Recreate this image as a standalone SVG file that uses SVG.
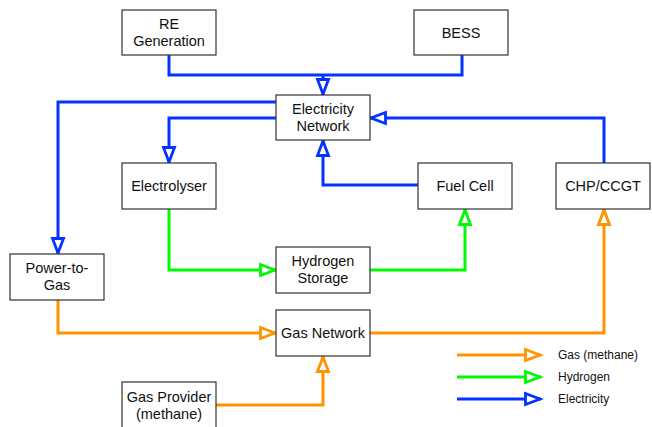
<svg xmlns="http://www.w3.org/2000/svg" width="652" height="427" viewBox="0 0 652 427">
<style>
.box{fill:#fff;stroke:#333;stroke-width:1.2}
.t{font-family:"Liberation Sans",Arial,sans-serif;font-size:14.5px;fill:#111;text-anchor:middle}
.lg{font-family:"Liberation Sans",Arial,sans-serif;font-size:12px;fill:#111}
.c{fill:none;stroke-width:3;stroke-linejoin:miter;stroke-linecap:butt}
.b{stroke:#0433FF}
.g{stroke:#00F900}
.o{stroke:#FF9300}
</style>
<defs>
<marker id="ab" markerUnits="userSpaceOnUse" markerWidth="22" markerHeight="18" viewBox="-3 -9 22 18" refX="15.5" refY="0" orient="auto"><polygon points="0,-5.5 14.5,0 0,5.5" fill="#fff" stroke="#0433FF" stroke-width="2.8"/></marker>
<marker id="ag" markerUnits="userSpaceOnUse" markerWidth="22" markerHeight="18" viewBox="-3 -9 22 18" refX="15.5" refY="0" orient="auto"><polygon points="0,-5.5 14.5,0 0,5.5" fill="#fff" stroke="#00F900" stroke-width="2.8"/></marker>
<marker id="ao" markerUnits="userSpaceOnUse" markerWidth="22" markerHeight="18" viewBox="-3 -9 22 18" refX="15.5" refY="0" orient="auto"><polygon points="0,-5.5 14.5,0 0,5.5" fill="#fff" stroke="#FF9300" stroke-width="2.8"/></marker>
</defs>
<rect width="652" height="427" fill="#fff"/>
<g id="connectors">
<path class="c b" d="M169,55 V75 H462 V55"/>
<path class="c b" d="M323,75 V95" marker-end="url(#ab)"/>
<path class="c b" d="M276,102 H58 V254" marker-end="url(#ab)"/>
<path class="c b" d="M276,118 H169 V163" marker-end="url(#ab)"/>
<path class="c b" d="M418,185 H323 V140" marker-end="url(#ab)"/>
<path class="c b" d="M604,163 V118 H370" marker-end="url(#ab)"/>
<path class="c g" d="M169,209 V270 H276" marker-end="url(#ag)"/>
<path class="c g" d="M370,270 H465 V209" marker-end="url(#ag)"/>
<path class="c o" d="M58,300 V333 H276" marker-end="url(#ao)"/>
<path class="c o" d="M370,333 H604 V209" marker-end="url(#ao)"/>
<path class="c o" d="M216,405 H323 V356" marker-end="url(#ao)"/>
</g>
<g id="re-generation"><rect class="box" x="122" y="10" width="94" height="45"/><text class="t" x="169" y="29">RE</text><text class="t" x="169" y="46">Generation</text></g>
<g id="bess"><rect class="box" x="414" y="10" width="94" height="45"/><text class="t" x="461" y="38">BESS</text></g>
<g id="electricity-network"><rect class="box" x="276" y="95" width="94" height="45"/><text class="t" x="323" y="114">Electricity</text><text class="t" x="323" y="131">Network</text></g>
<g id="electrolyser"><rect class="box" x="122" y="163" width="94" height="46"/><text class="t" x="169" y="191">Electrolyser</text></g>
<g id="fuel-cell"><rect class="box" x="418" y="163" width="94" height="46"/><text class="t" x="465" y="191">Fuel Cell</text></g>
<g id="chp-ccgt"><rect class="box" x="556" y="163" width="94" height="46"/><text class="t" x="603" y="191">CHP/CCGT</text></g>
<g id="power-to-gas"><rect class="box" x="10" y="254" width="94" height="46"/><text class="t" x="57" y="273">Power-to-</text><text class="t" x="57" y="290">Gas</text></g>
<g id="hydrogen-storage"><rect class="box" x="276" y="247" width="94" height="46"/><text class="t" x="323" y="266">Hydrogen</text><text class="t" x="323" y="283">Storage</text></g>
<g id="gas-network"><rect class="box" x="276" y="310" width="94" height="46"/><text class="t" x="323" y="338">Gas Network</text></g>
<g id="gas-provider"><rect class="box" x="122" y="382" width="94" height="50"/><text class="t" x="169" y="402">Gas Provider</text><text class="t" x="169" y="419">(methane)</text></g>
<g id="legend">
<path class="c o" d="M457,355 H541" marker-end="url(#ao)"/>
<path class="c g" d="M457,377 H541" marker-end="url(#ag)"/>
<path class="c b" d="M457,399 H541" marker-end="url(#ab)"/>
<text class="lg" x="558" y="359">Gas (methane)</text>
<text class="lg" x="558" y="381">Hydrogen</text>
<text class="lg" x="558" y="403">Electricity</text>
</g>
</svg>
